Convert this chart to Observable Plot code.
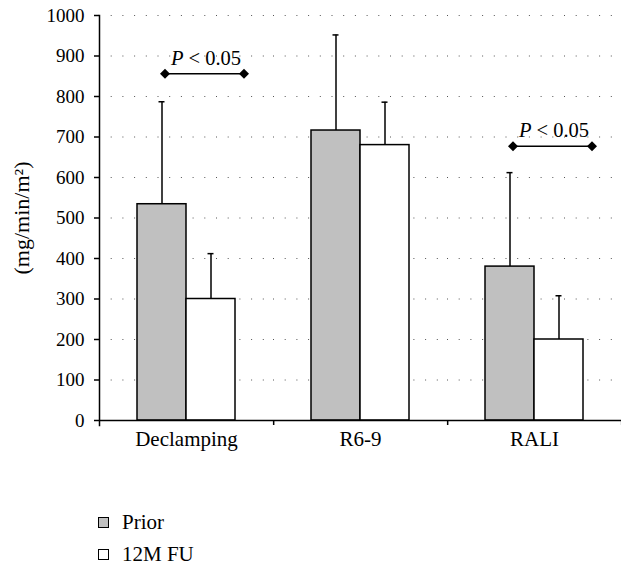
<!DOCTYPE html>
<html><head><meta charset="utf-8">
<script src="https://cdn.jsdelivr.net/npm/d3@7"></script>
<script src="https://cdn.jsdelivr.net/npm/@observablehq/plot@0.6"></script>
<style>
body{margin:0;background:#fff;}
#wrap{position:relative;width:621px;height:566px;font-family:"Liberation Serif","Times New Roman",Times,"DejaVu Serif",serif;color:#000;}
#wrap svg{display:block;}
.legend{position:absolute;left:98px;top:506px;font-size:21px;}
.row{display:flex;align-items:center;height:32px;}
.sw{width:9px;height:9px;border:1px solid #000;margin-right:13px;}
</style></head><body><div id="wrap"></div>
<script>
const categories = ["Declamping", "R6-9", "RALI"];
const seriesNames = ["Prior", "12M FU"];
const seriesColors = ["#c0c0c0", "#ffffff"];
const priorMean = [534, 716, 380];
const priorUpper = [787, 952, 612];
const fuMean = [300, 680, 200];
const fuUpper = [412, 786, 308];
const yTicks = [0, 100, 200, 300, 400, 500, 600, 700, 800, 900, 1000];
const sigGroups = ["Declamping", "RALI"];
const sigLevels = [856, 677];
const sigLabels = ["P < 0.05", "P < 0.05"];
const yLabel = "(mg/min/m²)";

const rows = categories.flatMap((g, i) => [
  {group: g, series: seriesNames[0], value: priorMean[i], upper: priorUpper[i]},
  {group: g, series: seriesNames[1], value: fuMean[i], upper: fuUpper[i]}
]);
const sig = sigGroups.map((g, i) => ({group: g, level: sigLevels[i], label: sigLabels[i]}));

const W = 621, ML = 98;
const step = (W - ML) / categories.length;
const FONT = "'Liberation Serif', 'Times New Roman', Times, 'DejaVu Serif', serif";

const chart = Plot.plot({
  width: W, height: 480,
  marginLeft: ML, marginRight: 0, marginTop: 15, marginBottom: 60,
  style: {fontFamily: FONT, fontSize: "19px", color: "#000", background: "#fff", overflow: "visible"},
  fx: {domain: categories, padding: 0, label: null},
  x: {domain: seriesNames, paddingInner: 0, paddingOuter: 0.75, axis: null},
  y: {domain: [0, 1000], label: null},
  color: {domain: seriesNames, range: seriesColors},
  marks: [
    Plot.gridY(yTicks.filter(d => d > 0), {stroke: "#555", strokeOpacity: 1, strokeWidth: 1, strokeDasharray: "1,10.7"}),
    Plot.axisY(yTicks, {anchor: "left", tickSize: 5, tickPadding: 10, tickFormat: d => String(d), strokeWidth: 1.5, fontSize: 19}),
    Plot.axisY({anchor: "left", ticks: [], tickSize: 0, label: yLabel, labelAnchor: "center", labelOffset: 86, labelArrow: "none", fontSize: 22}),
    Plot.frame({anchor: "left", facetAnchor: "left", insetBottom: -5, strokeWidth: 1.5}),
    Plot.barY(rows, {fx: "group", x: "series", y: "value", fill: "series", stroke: "#000", strokeWidth: 1.5}),
    Plot.ruleX(rows, {fx: "group", x: "series", y1: "value", y2: "upper", stroke: "#000", strokeWidth: 1.5}),
    Plot.tickY(rows, {fx: "group", x: "series", y: "upper", insetLeft: 21.5, insetRight: 21.5, stroke: "#000", strokeWidth: 1.5}),
    Plot.ruleY([0], {stroke: "#000", strokeWidth: 1.5}),
    Plot.axisFx({anchor: "bottom", tickSize: 0, tickPadding: 11, label: null, fontSize: 21}),
    Plot.axisFx({anchor: "bottom", tickSize: 5, tickFormat: () => "", label: null, dx: step / 2, strokeWidth: 1.5}),
    Plot.ruleY(sig, {fx: "group", x1: () => seriesNames[0], x2: () => seriesNames[1], y: "level", insetLeft: 28, insetRight: -8, stroke: "#000", strokeWidth: 1.5}),
    Plot.dot(sig, {fx: "group", x: () => seriesNames[0], y: "level", dx: 3, symbol: "diamond2", r: 4.5, fill: "#000", stroke: "none"}),
    Plot.dot(sig, {fx: "group", x: () => seriesNames[1], y: "level", dx: 33, symbol: "diamond2", r: 4.5, fill: "#000", stroke: "none"}),
    Plot.text(sig, {fx: "group", x: () => seriesNames[0], y: "level", text: "label", dx: 44, dy: -9, lineAnchor: "bottom", textAnchor: "middle", fontSize: 20.5, fill: "#000"})
  ]
});

// italic "P" in significance labels
d3.select(chart).selectAll("text").filter(function() { return sigLabels.includes(this.textContent) && this.childElementCount === 0; })
  .each(function() {
    const t = this.textContent;
    const sel = d3.select(this);
    sel.text(null);
    sel.append("tspan").attr("font-style", "italic").text(t.slice(0, 1));
    sel.append("tspan").text(t.slice(1));
  });

const wrap = document.getElementById("wrap");
wrap.appendChild(chart);
const legend = document.createElement("div");
legend.className = "legend";
seriesNames.forEach((s, i) => {
  const row = document.createElement("div");
  row.className = "row";
  const sw = document.createElement("span");
  sw.className = "sw";
  sw.style.background = seriesColors[i];
  const lab = document.createElement("span");
  lab.textContent = s;
  row.appendChild(sw); row.appendChild(lab);
  legend.appendChild(row);
});
wrap.appendChild(legend);
</script></body></html>
